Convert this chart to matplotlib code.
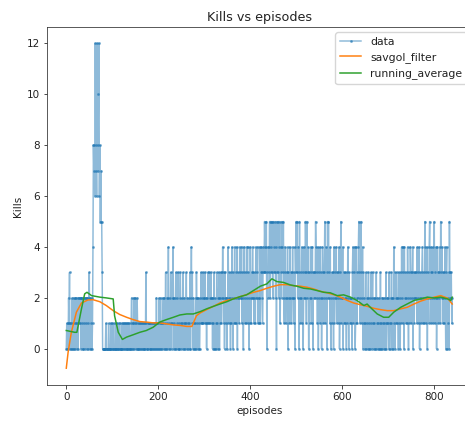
import matplotlib
matplotlib.use("Agg")
import matplotlib.pyplot as plt
import numpy as np

# Kills per episode (one hex char per episode; a=10, c=12)
kills_rows = [
    "0101021301", "0102012010", "2120120212", "1202120021",
    "2021202102", "3020120148", "786c786c78", "ac68575530",
    "0000001000", "0010000100", "1001000010", "0100101000",
    "0101001010", "1001010100", "0120101201", "2010210010",
    "1010010110", "0103100101", "1001010110", "0101102010",
    "1020120101", "2102013021", "0241020310", "1242012030",
    "2103010231", "0120310201", "1302011203", "0241302010",
    "1203120210", "0213121312", "2131202131", "3121321202",
    "1302010312", "0230213132", "4213032120", "2142312031",
    "4203124132", "1403221432", "2413203412", "3142413021",
    "4213242312", "3142234121", "2413432143", "3543450324",
    "4352534532", "5343524053", "3542513425", "4352143123",
    "2403124231", "3242132043", "5352430521", "3241302432",
    "5315243031", "2423140323", "3254231402", "3142302431",
    "2351423052", "5231402312", "3041232413", "2314023512",
    "2403121320", "3142031221", "2034132401", "4213245321",
    "3521403120", "1302102301", "2031023102", "1020312010",
    "2103012021", "0120130212", "1030121302", "2041302132",
    "1203120314", "2413042312", "3142031243", "1324031232",
    "2314231402", "3123412314", "5213403214", "5231423142",
    "5132402413", "3241532413", "2314203402", "1305232312",
]
kills = [int(c, 16) for c in "".join(kills_rows)]
episodes = list(range(len(kills)))

# savgol_filter curve (episode, value)
savgol_ep = [0, 4, 11, 22, 33, 47, 58, 73, 87, 102, 116, 131, 145, 160, 174, 189,
             203, 218, 233, 247, 262, 273, 283, 291, 305, 320, 334, 349, 363, 378,
             392, 407, 422, 436, 451, 465, 480, 494, 509, 523, 538, 552, 567, 581,
             596, 611, 625, 640, 654, 669, 683, 698, 712, 727, 741, 756, 770, 785,
             800, 814, 829, 839]
savgol_val = [-0.76, -0.13, 0.65, 1.44, 1.80, 1.92, 1.93, 1.85, 1.70, 1.50, 1.35,
              1.24, 1.15, 1.07, 1.05, 1.02, 1.02, 0.98, 0.94, 0.92, 0.88, 0.88,
              1.30, 1.41, 1.54, 1.67, 1.80, 1.90, 1.96, 2.05, 2.13, 2.22, 2.29,
              2.38, 2.46, 2.52, 2.52, 2.48, 2.46, 2.42, 2.35, 2.26, 2.20, 2.13,
              2.03, 1.90, 1.80, 1.73, 1.67, 1.59, 1.54, 1.50, 1.50, 1.57, 1.63,
              1.76, 1.87, 1.96, 2.03, 2.09, 1.99, 1.76]

# running_average curve (episode, value)
running_ep = [0, 18, 23, 33, 40, 45, 55, 73, 87, 102, 105, 113, 122, 131, 145, 160,
              174, 189, 203, 218, 233, 247, 262, 276, 291, 305, 320, 334, 349, 363,
              378, 392, 407, 422, 436, 447, 458, 472, 487, 501, 516, 531, 545, 560,
              574, 589, 603, 618, 632, 647, 654, 661, 676, 690, 701, 712, 727, 741,
              756, 770, 785, 800, 814, 829, 836, 839]
running_val = [0.72, 0.65, 0.65, 1.57, 2.16, 2.22, 2.09, 2.03, 2.00, 1.96, 1.30,
               0.65, 0.37, 0.46, 0.55, 0.65, 0.72, 0.85, 1.05, 1.15, 1.24, 1.33,
               1.37, 1.37, 1.46, 1.57, 1.67, 1.76, 1.85, 1.96, 2.05, 2.12, 2.29,
               2.46, 2.55, 2.75, 2.64, 2.61, 2.51, 2.46, 2.38, 2.35, 2.29, 2.22,
               2.20, 2.09, 2.12, 2.03, 1.90, 1.70, 1.76, 1.63, 1.37, 1.24, 1.24,
               1.44, 1.63, 1.76, 1.90, 1.96, 2.03, 2.00, 2.03, 1.96, 1.90, 2.03]

s = 0.72
plt.rcParams.update({
    "font.size": 7.5,
    "axes.linewidth": 0.8 * s,
    "axes.edgecolor": "#333333",
    "xtick.major.size": 3.5 * s,
    "ytick.major.size": 3.5 * s,
    "xtick.major.width": 0.8 * s,
    "ytick.major.width": 0.8 * s,
    "xtick.major.pad": 3.5 * s,
    "ytick.major.pad": 3.5 * s,
    "text.color": "#222222",
    "xtick.color": "#222222",
    "ytick.color": "#222222",
    "axes.labelcolor": "#222222",
})

fig = plt.figure(figsize=(4.65, 4.21), dpi=100)
ax = fig.add_axes([0.101, 0.0855, 0.914, 0.8505])

ax.plot(episodes, kills, color="#1f77b4", alpha=0.5, linewidth=1.5 * s,
        marker=".", markersize=3.2 * s, label="data")
ax.plot(savgol_ep, savgol_val, color="#ff7f0e", linewidth=1.5 * s, label="savgol_filter")
ax.plot(running_ep, running_val, color="#2ca02c", linewidth=1.5 * s, label="running_average")

ax.set_xlim(-42, 882)
ax.set_ylim(-1.42, 12.64)
ax.set_xticks([0, 200, 400, 600, 800])
ax.set_yticks([0, 2, 4, 6, 8, 10, 12])
ax.set_title("Kills vs episodes", fontsize=9.2, pad=6 * s)
ax.set_xlabel("episodes", labelpad=4 * s)
ax.set_ylabel("Kills", labelpad=4 * s)
ax.legend(loc="upper right", fontsize=7.8)

fig.savefig("out.png", dpi=100)
